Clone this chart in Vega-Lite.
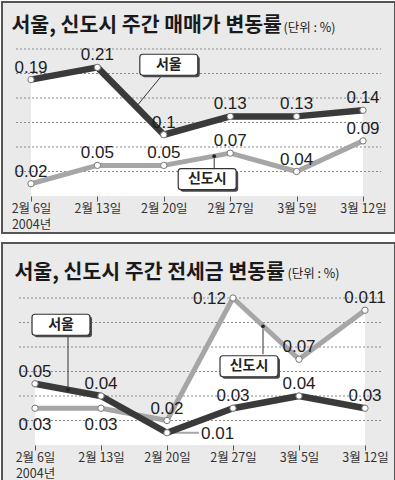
{
  "$schema": "https://vega.github.io/schema/vega-lite/v6.json",
  "background": "white",
  "padding": {"left": 1, "right": 1, "top": 1, "bottom": 1},
  "spacing": 8,
  "config": {
    "view": {"fill": "#eaeaea", "stroke": "#555555", "strokeWidth": 2},
    "font": "Noto Sans CJK KR"
  },
  "datasets": {
    "sale": [
      {"date": "2월 6일", "series": "서울", "value": 0.19, "label": "0.19"},
      {"date": "2월 13일", "series": "서울", "value": 0.21, "label": "0.21"},
      {"date": "2월 20일", "series": "서울", "value": 0.10, "label": "0.1"},
      {"date": "2월 27일", "series": "서울", "value": 0.13, "label": "0.13"},
      {"date": "3월 5일", "series": "서울", "value": 0.13, "label": "0.13"},
      {"date": "3월 12일", "series": "서울", "value": 0.14, "label": "0.14"},
      {"date": "2월 6일", "series": "신도시", "value": 0.02, "label": "0.02"},
      {"date": "2월 13일", "series": "신도시", "value": 0.05, "label": "0.05"},
      {"date": "2월 20일", "series": "신도시", "value": 0.05, "label": "0.05"},
      {"date": "2월 27일", "series": "신도시", "value": 0.07, "label": "0.07"},
      {"date": "3월 5일", "series": "신도시", "value": 0.04, "label": "0.04"},
      {"date": "3월 12일", "series": "신도시", "value": 0.09, "label": "0.09"}
    ],
    "jeonse": [
      {"date": "2월 6일", "series": "서울", "value": 0.05, "label": "0.05"},
      {"date": "2월 13일", "series": "서울", "value": 0.04, "label": "0.04"},
      {"date": "2월 20일", "series": "서울", "value": 0.01, "label": "0.01"},
      {"date": "2월 27일", "series": "서울", "value": 0.03, "label": "0.03"},
      {"date": "3월 5일", "series": "서울", "value": 0.04, "label": "0.04"},
      {"date": "3월 12일", "series": "서울", "value": 0.03, "label": "0.03"},
      {"date": "2월 6일", "series": "신도시", "value": 0.03, "label": "0.03"},
      {"date": "2월 13일", "series": "신도시", "value": 0.03, "label": "0.03"},
      {"date": "2월 20일", "series": "신도시", "value": 0.02, "label": "0.02"},
      {"date": "2월 27일", "series": "신도시", "value": 0.12, "label": "0.12"},
      {"date": "3월 5일", "series": "신도시", "value": 0.07, "label": "0.07"},
      {"date": "3월 12일", "series": "신도시", "value": 0.11, "label": "0.011"}
    ],
    "grid1": [{"value": 0.04}, {"value": 0.08}, {"value": 0.12}, {"value": 0.16}, {"value": 0.20}, {"value": 0.24}],
    "grid2": [{"value": 0.02}, {"value": 0.04}, {"value": 0.06}, {"value": 0.08}, {"value": 0.10}, {"value": 0.12}]
  },
  "vconcat": [
    {
      "width": 393,
      "height": 231,
      "data": {"name": "sale"},
      "encoding": {
        "x": {"field": "date", "type": "ordinal",
          "scale": {"type": "point", "domain": ["2월 6일", "2월 13일", "2월 20일", "2월 27일", "3월 5일", "3월 12일"], "range": [29, 361], "padding": 0},
          "axis": {"title": "서울, 신도시 주간 매매가 변동률", "titleX": 9, "titleY": -165, "titleAlign": "left", "titleAnchor": "start", "titleBaseline": "alphabetic", "titleAngle": 0, "titleFont": "Noto Sans CJK KR", "titleFontSize": 20.5, "titleFontWeight": "bold", "titleColor": "#1a1a1a",
            "domain": false, "grid": false, "ticks": true, "tickSize": 5, "tickColor": "#555555", "labelFont": "Noto Sans CJK KR", "labelFontSize": 12.5, "labelColor": "#333333", "labelPadding": 1, "labelAngle": 0, "labelLineHeight": 16, "labelOverlap": false, "labelExpr": "datum.value == '2월 6일' ? ['2월 6일', '2004년'] : datum.value", "offset": -37}},
        "y": {"field": "value", "type": "quantitative",
          "scale": {"domain": [0, 0.24], "range": [194, 47], "nice": false, "zero": false},
          "axis": {"title": "(단위 : %)", "titleAngle": 0, "titleX": 281, "titleY": 29, "titleAlign": "left", "titleBaseline": "alphabetic", "titleFont": "Noto Sans CJK KR", "titleFontSize": 12.5, "titleFontWeight": "normal", "titleColor": "#222222", "labels": false, "ticks": false, "domain": false, "grid": false}}
      },
      "layer": [
        {"transform": [{"filter": "datum.series == '서울'"}], "mark": {"type": "area", "color": "white"}, "encoding": {"y2": {"datum": 0}}},
        {"data": {"name": "grid1"}, "mark": {"type": "rule", "color": "#8a8a8a", "strokeDash": [2, 2], "strokeWidth": 1, "xOffset": -15, "x2Offset": 18},
          "encoding": {"x": {"datum": "2월 6일", "type": "ordinal"}, "x2": {"datum": "3월 12일"}}},
        {"data": {"values": [{}]}, "mark": {"type": "rule", "color": "#555555", "strokeWidth": 1, "x2Offset": 16},
          "encoding": {"x": {"datum": "2월 6일", "type": "ordinal"}, "x2": {"datum": "3월 12일"}, "y": {"datum": 0, "type": "quantitative"}}},
        {"transform": [{"filter": "datum.series == '서울' && datum.date == '2월 20일'"}], "mark": {"type": "rule", "color": "#333333", "strokeWidth": 1, "xOffset": -26, "yOffset": -30, "x2Offset": -3, "y2Offset": -58},
          "encoding": {"x2": {"field": "date"}, "y2": {"field": "value"}}},
        {"transform": [{"filter": "datum.series == '신도시' && datum.date == '2월 27일'"}], "mark": {"type": "rule", "color": "#333333", "strokeWidth": 1, "xOffset": -16, "yOffset": 3, "x2Offset": -16, "y2Offset": 16},
          "encoding": {"x2": {"field": "date"}, "y2": {"field": "value"}}},
        {"transform": [{"filter": "datum.series == '신도시'"}], "mark": {"type": "line", "color": "#a6a6a6", "strokeWidth": 5, "strokeJoin": "round"}},
        {"transform": [{"filter": "datum.series == '서울'"}], "mark": {"type": "line", "color": "#3a3a3a", "strokeWidth": 6.5, "strokeJoin": "round"}},
        {"mark": {"type": "point", "filled": true, "fill": "white", "stroke": "#777777", "strokeWidth": 1, "size": 40, "opacity": 1}},
        {"mark": {"type": "text", "font": "Liberation Sans Narrow, Liberation Sans, sans-serif", "fontSize": 17, "color": "#1e1e1e", "baseline": "alphabetic", "dy": -7},
          "encoding": {"text": {"field": "label"}}},
        {"transform": [{"filter": "datum.series == '신도시' && datum.date == '2월 27일'"}], "mark": {"type": "point", "filled": true, "color": "#222222", "size": 14, "opacity": 1, "xOffset": -16, "yOffset": 3}},
        {"transform": [{"filter": "datum.series == '서울' && datum.date == '2월 20일'"}],
          "mark": {"type": "point", "filled": true, "color": "#4a4a4a", "opacity": 1, "size": 1764, "xOffset": 7, "yOffset": -68, "shape": "M-1.24,-0.5L1.24,-0.5Q1.38,-0.5 1.38,-0.36L1.38,0.36Q1.38,0.5 1.24,0.5L-1.24,0.5Q-1.38,0.5 -1.38,0.36L-1.38,-0.36Q-1.38,-0.5 -1.24,-0.5Z"}},
        {"transform": [{"filter": "datum.series == '서울' && datum.date == '2월 20일'"}],
          "mark": {"type": "point", "filled": true, "fill": "white", "stroke": "#333333", "strokeWidth": 1.2, "opacity": 1, "size": 1764, "xOffset": 5, "yOffset": -70, "shape": "M-1.24,-0.5L1.24,-0.5Q1.38,-0.5 1.38,-0.36L1.38,0.36Q1.38,0.5 1.24,0.5L-1.24,0.5Q-1.38,0.5 -1.38,0.36L-1.38,-0.36Q-1.38,-0.5 -1.24,-0.5Z"}},
        {"transform": [{"filter": "datum.series == '서울' && datum.date == '2월 20일'"}],
          "mark": {"type": "text", "font": "Noto Sans CJK KR", "fontWeight": "bold", "fontSize": 14, "color": "#222222", "baseline": "middle", "align": "center", "xOffset": 5, "yOffset": -70},
          "encoding": {"text": {"field": "series"}}},
        {"transform": [{"filter": "datum.series == '신도시' && datum.date == '2월 27일'"}],
          "mark": {"type": "point", "filled": true, "color": "#4a4a4a", "opacity": 1, "size": 1764, "xOffset": -21, "yOffset": 28, "shape": "M-1.24,-0.5L1.24,-0.5Q1.38,-0.5 1.38,-0.36L1.38,0.36Q1.38,0.5 1.24,0.5L-1.24,0.5Q-1.38,0.5 -1.38,0.36L-1.38,-0.36Q-1.38,-0.5 -1.24,-0.5Z"}},
        {"transform": [{"filter": "datum.series == '신도시' && datum.date == '2월 27일'"}],
          "mark": {"type": "point", "filled": true, "fill": "white", "stroke": "#333333", "strokeWidth": 1.2, "opacity": 1, "size": 1764, "xOffset": -23, "yOffset": 26, "shape": "M-1.24,-0.5L1.24,-0.5Q1.38,-0.5 1.38,-0.36L1.38,0.36Q1.38,0.5 1.24,0.5L-1.24,0.5Q-1.38,0.5 -1.38,0.36L-1.38,-0.36Q-1.38,-0.5 -1.24,-0.5Z"}},
        {"transform": [{"filter": "datum.series == '신도시' && datum.date == '2월 27일'"}],
          "mark": {"type": "text", "font": "Noto Sans CJK KR", "fontWeight": "bold", "fontSize": 14, "color": "#222222", "baseline": "middle", "align": "center", "xOffset": -23, "yOffset": 26},
          "encoding": {"text": {"field": "series"}}}
      ]
    },
    {
      "width": 393,
      "height": 239,
      "data": {"name": "jeonse"},
      "encoding": {
        "x": {"field": "date", "type": "ordinal",
          "scale": {"type": "point", "domain": ["2월 6일", "2월 13일", "2월 20일", "2월 27일", "3월 5일", "3월 12일"], "range": [33, 363], "padding": 0},
          "axis": {"title": "서울, 신도시 주간 전세금 변동률", "titleX": 12, "titleY": -167, "titleAlign": "left", "titleAnchor": "start", "titleBaseline": "alphabetic", "titleAngle": 0, "titleFont": "Noto Sans CJK KR", "titleFontSize": 20.5, "titleFontWeight": "bold", "titleColor": "#1a1a1a",
            "domain": false, "grid": false, "ticks": true, "tickSize": 5, "tickColor": "#555555", "labelFont": "Noto Sans CJK KR", "labelFontSize": 12.5, "labelColor": "#333333", "labelPadding": 1, "labelAngle": 0, "labelLineHeight": 16, "labelOverlap": false, "labelExpr": "datum.value == '2월 6일' ? ['2월 6일', '2004년'] : datum.value", "offset": -37}},
        "y": {"field": "value", "type": "quantitative",
          "scale": {"domain": [0, 0.12], "range": [202, 55], "nice": false, "zero": false},
          "axis": {"title": "(단위 : %)", "titleAngle": 0, "titleX": 285, "titleY": 34, "titleAlign": "left", "titleBaseline": "alphabetic", "titleFont": "Noto Sans CJK KR", "titleFontSize": 12.5, "titleFontWeight": "normal", "titleColor": "#222222", "labels": false, "ticks": false, "domain": false, "grid": false}}
      },
      "layer": [
        {"transform": [{"filter": "datum.series == '서울'"}], "mark": {"type": "area", "color": "white"}, "encoding": {"y2": {"datum": 0}}},
        {"transform": [{"filter": "datum.series == '신도시'"}], "mark": {"type": "area", "color": "white"}, "encoding": {"y2": {"datum": 0}}},
        {"data": {"name": "grid2"}, "mark": {"type": "rule", "color": "#8a8a8a", "strokeDash": [2, 2], "strokeWidth": 1, "xOffset": -16, "x2Offset": 18},
          "encoding": {"x": {"datum": "2월 6일", "type": "ordinal"}, "x2": {"datum": "3월 12일"}}},
        {"data": {"values": [{}]}, "mark": {"type": "rule", "color": "#555555", "strokeWidth": 1, "x2Offset": 16},
          "encoding": {"x": {"datum": "2월 6일", "type": "ordinal"}, "x2": {"datum": "3월 12일"}, "y": {"datum": 0, "type": "quantitative"}}},
        {"transform": [{"filter": "datum.series == '서울' && datum.date == '2월 6일'"}], "mark": {"type": "rule", "color": "#333333", "strokeWidth": 1, "xOffset": 33, "yOffset": 6, "x2Offset": 33, "y2Offset": -49},
          "encoding": {"x2": {"field": "date"}, "y2": {"field": "value"}}},
        {"transform": [{"filter": "datum.series == '신도시' && datum.date == '3월 5일'"}], "mark": {"type": "rule", "color": "#333333", "strokeWidth": 1, "xOffset": -36, "yOffset": -33, "x2Offset": -36, "y2Offset": -5},
          "encoding": {"x2": {"field": "date"}, "y2": {"field": "value"}}},
        {"transform": [{"filter": "datum.series == '서울' && datum.date == '2월 20일'"}], "mark": {"type": "rule", "color": "#a6a6a6", "strokeWidth": 2, "xOffset": 4, "x2Offset": 32},
          "encoding": {"x2": {"field": "date"}, "y2": {"field": "value"}}},
        {"transform": [{"filter": "datum.series == '신도시'"}], "mark": {"type": "line", "color": "#a6a6a6", "strokeWidth": 5, "strokeJoin": "round"}},
        {"transform": [{"filter": "datum.series == '서울'"}], "mark": {"type": "line", "color": "#3a3a3a", "strokeWidth": 6.5, "strokeJoin": "round"}},
        {"mark": {"type": "point", "filled": true, "fill": "white", "stroke": "#777777", "strokeWidth": 1, "size": 40, "opacity": 1}},
        {"transform": [{"filter": "!(datum.series == '신도시' && (datum.date == '2월 6일' || datum.date == '2월 13일' || datum.date == '2월 27일')) && !(datum.series == '서울' && datum.date == '2월 20일')"}],
          "mark": {"type": "text", "font": "Liberation Sans Narrow, Liberation Sans, sans-serif", "fontSize": 17, "color": "#1e1e1e", "baseline": "alphabetic", "dy": -7},
          "encoding": {"text": {"field": "label"}}},
        {"transform": [{"filter": "datum.series == '신도시' && (datum.date == '2월 6일' || datum.date == '2월 13일')"}],
          "mark": {"type": "text", "font": "Liberation Sans Narrow, Liberation Sans, sans-serif", "fontSize": 17, "color": "#1e1e1e", "baseline": "alphabetic", "dy": 22},
          "encoding": {"text": {"field": "label"}}},
        {"transform": [{"filter": "datum.series == '신도시' && datum.date == '2월 27일'"}],
          "mark": {"type": "text", "font": "Liberation Sans Narrow, Liberation Sans, sans-serif", "fontSize": 17, "color": "#1e1e1e", "baseline": "alphabetic", "align": "right", "dx": -7, "dy": 6},
          "encoding": {"text": {"field": "label"}}},
        {"transform": [{"filter": "datum.series == '서울' && datum.date == '2월 20일'"}],
          "mark": {"type": "text", "font": "Liberation Sans Narrow, Liberation Sans, sans-serif", "fontSize": 17, "color": "#1e1e1e", "baseline": "alphabetic", "align": "left", "dx": 34, "dy": 6},
          "encoding": {"text": {"field": "label"}}},
        {"transform": [{"filter": "datum.series == '서울' && datum.date == '2월 6일'"}], "mark": {"type": "point", "filled": true, "color": "#222222", "size": 14, "opacity": 1, "xOffset": 33, "yOffset": 6}},
        {"transform": [{"filter": "datum.series == '신도시' && datum.date == '3월 5일'"}], "mark": {"type": "point", "filled": true, "color": "#222222", "size": 14, "opacity": 1, "xOffset": -36, "yOffset": -33}},
        {"transform": [{"filter": "datum.series == '서울' && datum.date == '2월 6일'"}],
          "mark": {"type": "point", "filled": true, "color": "#4a4a4a", "opacity": 1, "size": 1764, "xOffset": 28, "yOffset": -57, "shape": "M-1.24,-0.5L1.24,-0.5Q1.38,-0.5 1.38,-0.36L1.38,0.36Q1.38,0.5 1.24,0.5L-1.24,0.5Q-1.38,0.5 -1.38,0.36L-1.38,-0.36Q-1.38,-0.5 -1.24,-0.5Z"}},
        {"transform": [{"filter": "datum.series == '서울' && datum.date == '2월 6일'"}],
          "mark": {"type": "point", "filled": true, "fill": "white", "stroke": "#333333", "strokeWidth": 1.2, "opacity": 1, "size": 1764, "xOffset": 26, "yOffset": -59, "shape": "M-1.24,-0.5L1.24,-0.5Q1.38,-0.5 1.38,-0.36L1.38,0.36Q1.38,0.5 1.24,0.5L-1.24,0.5Q-1.38,0.5 -1.38,0.36L-1.38,-0.36Q-1.38,-0.5 -1.24,-0.5Z"}},
        {"transform": [{"filter": "datum.series == '서울' && datum.date == '2월 6일'"}],
          "mark": {"type": "text", "font": "Noto Sans CJK KR", "fontWeight": "bold", "fontSize": 14, "color": "#222222", "baseline": "middle", "align": "center", "xOffset": 26, "yOffset": -59},
          "encoding": {"text": {"field": "series"}}},
        {"transform": [{"filter": "datum.series == '신도시' && datum.date == '3월 5일'"}],
          "mark": {"type": "point", "filled": true, "color": "#4a4a4a", "opacity": 1, "size": 1764, "xOffset": -48, "yOffset": 9, "shape": "M-1.24,-0.5L1.24,-0.5Q1.38,-0.5 1.38,-0.36L1.38,0.36Q1.38,0.5 1.24,0.5L-1.24,0.5Q-1.38,0.5 -1.38,0.36L-1.38,-0.36Q-1.38,-0.5 -1.24,-0.5Z"}},
        {"transform": [{"filter": "datum.series == '신도시' && datum.date == '3월 5일'"}],
          "mark": {"type": "point", "filled": true, "fill": "white", "stroke": "#333333", "strokeWidth": 1.2, "opacity": 1, "size": 1764, "xOffset": -50, "yOffset": 7, "shape": "M-1.24,-0.5L1.24,-0.5Q1.38,-0.5 1.38,-0.36L1.38,0.36Q1.38,0.5 1.24,0.5L-1.24,0.5Q-1.38,0.5 -1.38,0.36L-1.38,-0.36Q-1.38,-0.5 -1.24,-0.5Z"}},
        {"transform": [{"filter": "datum.series == '신도시' && datum.date == '3월 5일'"}],
          "mark": {"type": "text", "font": "Noto Sans CJK KR", "fontWeight": "bold", "fontSize": 14, "color": "#222222", "baseline": "middle", "align": "center", "xOffset": -50, "yOffset": 7},
          "encoding": {"text": {"field": "series"}}}
      ]
    }
  ]
}
